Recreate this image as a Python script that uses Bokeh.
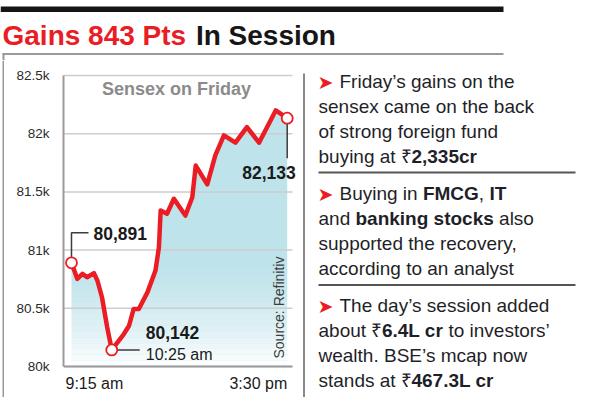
import math
from bokeh.plotting import figure
from bokeh.layouts import column, row
from bokeh.models import Range1d, FixedTicker, Label
from bokeh.embed import file_html
from bokeh.resources import INLINE

# ---------------- data ----------------
# minutes after 9:15 am
times_min = [0, 10, 19, 27, 39, 45, 53, 62, 70, 91, 100, 108, 117, 132, 146,
             152, 155, 166, 178, 198, 210, 216, 236, 250, 265, 285, 305, 326, 355, 375]
sensex = [80891, 80753, 80796, 80767, 80802, 80739, 80595, 80338, 80142, 80279,
          80350, 80494, 80494, 80637, 80824, 81024, 81340, 81312, 81441, 81297,
          81454, 81726, 81564, 81813, 81985, 81923, 82057, 81923, 82200, 82133]
y_ticks = [80000, 80500, 81000, 81500, 82000, 82500]
y_tick_labels = ["80k", "80.5k", "81k", "81.5k", "82k", "82.5k"]
x_tick_labels = ["9:15 am", "3:30 pm"]
start_hour, start_minute = 9, 15

title_red = "Gains 843 Pts"
title_black = "In Session"
chart_title = "Sensex on Friday"
source_text = "Source: Refinitiv"

bullets = [
    [[("Friday’s gains on the", False)],
     [("sensex came on the back", False)],
     [("of strong foreign fund", False)],
     [("buying at ₹", False), ("2,335cr", True)]],
    [[("Buying in ", False), ("FMCG", True), (", ", False), ("IT", True)],
     [("and ", False), ("banking stocks", True), (" also", False)],
     [("supported the recovery,", False)],
     [("according to an analyst", False)]],
    [[("The day’s session added", False)],
     [("about ₹", False), ("6.4L cr", True), (" to investors’", False)],
     [("wealth. BSE’s mcap now", False)],
     [("stands at ₹", False), ("467.3L cr", True)]],
]

# ---------------- styles ----------------
RED = "#ea1d25"
BODY = "#1f1f29"
SANS = "Liberation Sans"
GREY = "#9a9a9a"

# approximate Arial metrics for chaining inline bold/regular runs
_AR = dict(zip(" ,.:’'", [278, 278, 278, 278, 222, 191]))
_AR.update({c: 556 for c in "0123456789"})
_AR.update(dict(zip("ABCDEFGHIJKLMNOPQRSTUVWXYZ",
                    [667, 667, 722, 722, 667, 611, 778, 722, 278, 500, 667, 556, 833,
                     722, 778, 667, 778, 722, 667, 611, 722, 667, 944, 667, 667, 611])))
_AR.update(dict(zip("abcdefghijklmnopqrstuvwxyz",
                    [556, 556, 500, 556, 556, 278, 556, 556, 222, 222, 500, 222, 833,
                     556, 556, 556, 556, 333, 500, 278, 556, 500, 722, 500, 500, 500])))
_ARB = dict(_AR)
_ARB.update(dict(zip("ABCDEFGHIJKLMNOPQRSTUVWXYZ",
                     [722, 722, 722, 722, 667, 611, 778, 722, 278, 556, 722, 611, 833,
                      722, 778, 667, 778, 722, 667, 611, 722, 667, 944, 667, 667, 611])))
_ARB.update(dict(zip("abcdefghijklmnopqrstuvwxyz",
                     [556, 611, 556, 611, 556, 333, 611, 611, 278, 278, 556, 278, 889,
                      611, 611, 611, 611, 389, 556, 333, 611, 556, 778, 556, 556, 500])))


def text_width(s, bold, size):
    tab = _ARB if bold else _AR
    return sum(tab.get(ch, 556) for ch in s) * size / 1000.0


def style(f):
    f.grid.visible = False
    f.outline_line_color = None
    f.background_fill_color = "white"
    f.border_fill_color = "white"
    return f


def bare(w, h, xr, yr):
    f = figure(width=w, height=h, x_range=Range1d(*xr), y_range=Range1d(*yr), min_border=0,
               x_axis_location=None, y_axis_location=None,
               output_backend="svg", toolbar_location=None)
    return style(f)


def label(f, **kw):
    d = dict(text_font=SANS, text_color="#1a1a1a", text_baseline="middle", text_align="left")
    d.update(kw)
    f.add_layout(Label(**d))


# ---------------- chart scales (page pixels <-> data) ----------------
FL, FR, FT, FB = 63, 292, 75, 366          # chart plot area in page pixels
x0r, x1r = -13.9, 384.2
y0r, y1r = y_ticks[0], y_ticks[-1]
mpp = (x1r - x0r) / (FR - FL)              # minutes per pixel
vpp = (y1r - y0r) / (FB - FT)              # points per pixel


def X(px):
    return x0r + (px - FL) * mpp


def Y(py):
    return y0r + (FB - py) * vpp


# ---------------- title strip (page y 0..60) ----------------
t = bare(600, 60, (0, 600), (60, 0))
t.quad(left=[0], right=[503], top=[6], bottom=[11.5], fill_color="#151515", line_color=None)
t.quad(left=[2], right=[503], top=[52.5], bottom=[54.5], fill_color=GREY, line_color=None)
t.quad(left=[2], right=[4], top=[52.5], bottom=[60], fill_color=GREY, line_color=None)
TS = 28
label(t, x=2, y=35, text=title_red, text_font_style="bold", text_font_size=f"{TS}px",
      text_color=RED)
label(t, x=2 + text_width(title_red + " ", True, TS) + 2, y=35, text=title_black,
      text_font_style="bold", text_font_size=f"{TS}px", text_color="#161616")

# ---------------- left border strip (page x 0..4, y 60..397) ----------------
s = bare(4, 337, (0, 4), (397, 60))
s.quad(left=[2], right=[4], top=[60], bottom=[397], fill_color=GREY, line_color=None)

# ---------------- chart (page x 4..302, y 60..397) ----------------
p = figure(width=298, height=337, x_range=Range1d(X(FL), X(302)), y_range=Range1d(Y(397), Y(60)),
           min_border_left=FL - 4, min_border_right=0, min_border_top=0, min_border_bottom=0,
           x_axis_location=None, output_backend="svg", toolbar_location=None)
style(p)
p.yaxis.ticker = FixedTicker(ticks=y_ticks)
p.yaxis.major_label_overrides = {tk: lb for tk, lb in zip(y_ticks, y_tick_labels)}
p.yaxis.bounds = (y0r, y1r)
p.yaxis.major_tick_line_color = None
p.yaxis.minor_tick_line_color = None
p.yaxis.major_label_standoff = 8
p.yaxis.major_label_text_font = SANS
p.yaxis.major_label_text_font_size = "13.5px"
p.yaxis.major_label_text_color = "#2b2b2b"
p.yaxis.axis_line_color = GREY
p.yaxis.axis_line_width = 2

# area fill
p.varea(x=times_min, y1=[y0r] * len(times_min), y2=sensex, fill_color="#bfe3eb")
# fade to white towards the bottom
N = 18
fade_top = y0r + 900
for i in range(N):
    lo = y0r + (fade_top - y0r) * i / N
    hi = y0r + (fade_top - y0r) * (i + 1) / N
    a = (1 - (i + 0.5) / N) ** 1.4 * 0.97
    p.quad(left=[x0r], right=[x1r], bottom=[lo], top=[hi], fill_color="white",
           fill_alpha=a, line_color=None)
# grid lines and x baseline
p.segment(x0=[x0r] * len(y_ticks), y0=y_ticks, x1=[x1r] * len(y_ticks), y1=y_ticks,
          line_color="#cdcdcd", line_width=1.5)
p.segment(x0=[x0r], y0=[y0r], x1=[x1r], y1=[y0r], line_color=GREY, line_width=2)

# the line
p.line(times_min, sensex, line_color=RED, line_width=4.5, line_join="round", line_cap="round")

i_min = sensex.index(min(sensex))
pts = [0, i_min, len(sensex) - 1]
tx = [times_min[i] for i in pts]
vy = [sensex[i] for i in pts]

# leader lines
LEAD = "#3c3c3c"
p.line([tx[0], tx[0], tx[0] + 17 * mpp], [vy[0], vy[0] + 30 * vpp, vy[0] + 30 * vpp],
       line_color=LEAD, line_width=1.5)
p.line([tx[1], tx[1] + 28 * mpp], [vy[1], vy[1]], line_color=LEAD, line_width=1.5)
p.line([tx[2], tx[2]], [vy[2], vy[2] - 40 * vpp], line_color=LEAD, line_width=1.5)

p.scatter(tx, vy, size=11, fill_color="white", line_color=RED, line_width=1.8)

mm = start_hour * 60 + start_minute + times_min[i_min]
hh, mi = divmod(mm, 60)
min_time = f"{(hh - 1) % 12 + 1}:{mi:02d} {'am' if hh < 12 else 'pm'}"

label(p, x=tx[0], y=vy[0], x_offset=22, y_offset=29, text=f"{vy[0]:,}",
      text_font_style="bold", text_font_size="17.5px")
label(p, x=tx[1], y=vy[1], x_offset=34, y_offset=17, text=f"{vy[1]:,}",
      text_font_style="bold", text_font_size="17.5px")
label(p, x=tx[1], y=vy[1], x_offset=34, y_offset=-5, text=min_time, text_font_size="16px")
label(p, x=tx[2], y=vy[2], x_offset=8.5, y_offset=-54, text=f"{vy[2]:,}",
      text_font_style="bold", text_font_size="17.5px", text_align="right")

label(p, x=X(176), y=Y(88), text=chart_title, text_font_style="bold",
      text_font_size="18px", text_color="#8b8b8b", text_align="center")
label(p, x=X(278), y=Y(358), text=source_text, angle=math.pi / 2,
      text_font_size="14px", text_color="#3c3c3c")

label(p, x=times_min[0], y=y0r, x_offset=-6, y_offset=-17, text=x_tick_labels[0],
      text_font_size="16px")
label(p, x=times_min[-1], y=y0r, x_offset=0, y_offset=-17, text=x_tick_labels[1],
      text_font_size="16px", text_align="right")

# ---------------- text panel (page x 302..600, y 60..397) ----------------
q = bare(298, 337, (302, 600), (397, 60))
q.quad(left=[302.5], right=[304.5], top=[73], bottom=[397], fill_color="#8a8a8a", line_color=None)
q.quad(left=[318] * 2, right=[575] * 2, top=[171, 283.5], bottom=[173, 285.5],
       fill_color="#555555", line_color=None)

BODY_SIZE = 19
MID = 6.0                                   # baseline -> middle of the text box
first_base = [87.3, 199, 311]
LINE_GAP = 25
for bi, lines in enumerate(bullets):
    for li, segs in enumerate(lines):
        base = first_base[bi] + li * LINE_GAP
        cur = 339 if li == 0 else 318
        if li == 0:
            label(q, x=317, y=base - MID, text="➤", text_font="DejaVu Sans",
                  text_font_size="19px", text_color=RED)
        for txt, isb in segs:
            lead = len(txt) - len(txt.lstrip(" "))
            xpos = cur + text_width(" " * lead, isb, BODY_SIZE)
            if txt.strip(" "):
                label(q, x=xpos, y=base - MID, text=txt.strip(" "),
                      text_font_style="bold" if isb else "normal",
                      text_font_size=f"{BODY_SIZE}px", text_color=BODY)
            cur += text_width(txt, isb, BODY_SIZE)

# ---------------- bottom rule (page y 397..400) ----------------
b = bare(600, 3, (0, 600), (400, 397))
b.quad(left=[2], right=[304], top=[397], bottom=[398.6], fill_color=GREY, line_color=None)
b.quad(left=[318], right=[575], top=[397], bottom=[399], fill_color="#555555", line_color=None)

layout = column(t, row(s, p, q, spacing=0), b, spacing=0)
open("out.html", "w").write(file_html(layout, INLINE))
